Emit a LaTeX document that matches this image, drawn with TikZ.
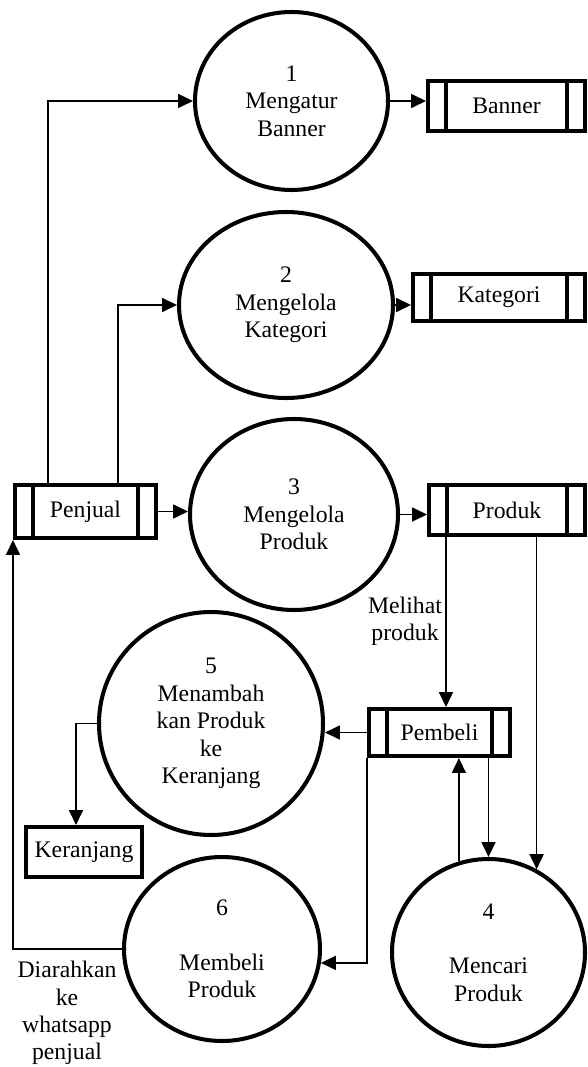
\documentclass[tikz,border=0pt]{standalone}
\usepackage{fontspec}
\setmainfont{Liberation Serif}
\usetikzlibrary{shapes.geometric,arrows.meta}

\begin{document}
\begin{tikzpicture}[
        font=\fontsize{13.5}{15.6}\selectfont,
        process/.style={ellipse, draw, line width=2.3pt, inner sep=0pt, align=center},
        store/.style={draw, line width=2.3pt, inner sep=0pt,
            path picture={\draw[line width=2.3pt] ([xshift=0.36cm]path picture bounding box.north west) -- ([xshift=0.36cm]path picture bounding box.south west);
                          \draw[line width=2.3pt] ([xshift=-0.36cm]path picture bounding box.north east) -- ([xshift=-0.36cm]path picture bounding box.south east);}},
        plainstore/.style={draw, line width=2.3pt, inner sep=0pt},
        flow/.style={line width=0.8pt, -{Triangle[length=8.5pt,width=8pt]}},
        note/.style={align=center, inner sep=0pt}]
            \useasboundingbox (0,0) rectangle (11.76,-21.34);
            % proses
            \node[process, minimum width=3.86cm, minimum height=3.56cm] (p1) at ( 5.83, -2.02) {1\\Mengatur\\Banner};
            \node[process, minimum width=4.28cm, minimum height=3.72cm] (p2) at ( 5.72, -6.10) {2\\Mengelola\\Kategori};
            \node[process, minimum width=4.16cm, minimum height=3.82cm] (p3) at ( 5.88,-10.29) {3\\Mengelola\\Produk};
            \node[process, minimum width=4.48cm, minimum height=4.46cm] (p5) at ( 4.22,-14.47) {5\\Menambah\\kan Produk\\ke\\Keranjang};
            \node[process, minimum width=3.92cm, minimum height=3.68cm] (p6) at ( 4.44,-18.98) {6\\[15.6pt]Membeli\\Produk};
            \node[process, minimum width=3.86cm, minimum height=3.74cm] (p4) at ( 9.77,-19.05) {4\\[15.6pt]Mencari\\Produk};
            % penyimpanan
            \node[store, minimum width=3.14cm, minimum height=1.00cm] (banner)   at (10.13, -2.12) {Banner};
            \node[store, minimum width=3.44cm, minimum height=0.94cm] (kategori) at ( 9.98, -5.95) {Kategori};
            \node[store, minimum width=2.82cm, minimum height=1.06cm] (penjual)  at ( 1.71,-10.23) {Penjual};
            \node[store, minimum width=3.12cm, minimum height=1.00cm] (produk)   at (10.14,-10.20) {Produk};
            \node[store, minimum width=2.82cm, minimum height=0.94cm] (pembeli)  at ( 8.79,-14.65) {Pembeli};
            \node[plainstore, minimum width=2.32cm, minimum height=1.00cm] (keranjang) at ( 1.68,-17.04) {Keranjang};
            % label
            \node[note] (lblMelihat) at ( 8.10,-12.42) {Melihat\\produk};
            \node[note] (lblWa)      at ( 1.34,-20.26) {Diarahkan\\ke\\whatsapp\\penjual};
            % aliran
            \draw[flow] ([xshift=-0.75cm]penjual.north) |- (p1.west);
            \draw[flow] ([xshift=0.65cm]penjual.north) |- (p2.west);
            \draw[flow] (penjual.east) -- (penjual.east -| p3.west);
            \draw[flow] (p1.east) -- (p1.east -| banner.west);
            \draw[flow] (p2.east) -- (p2.east -| kategori.west);
            \draw[flow] (p3.east) -- (p3.east -| produk.west);
            \draw[flow] ([xshift=0.38cm]produk.south west) coordinate (m) -- (m |- pembeli.north);
            \draw[flow] (p4.60 |- produk.south) -- (p4.60);
            \draw[flow] (pembeli.west) -- (pembeli.west -| p5.east);
            \draw[flow] (pembeli.south west) |- (p6.-8);
            \draw[flow] (p4.108) -- (p4.108 |- pembeli.south);
            \draw[flow] (p4.north |- pembeli.south) -- (p4.north);
            \draw[flow] (p5.west) -| ([xshift=-0.16cm]keranjang.north);
            \draw[flow] (p6.west) -| (penjual.south west);
        \end{tikzpicture}
\end{document}
